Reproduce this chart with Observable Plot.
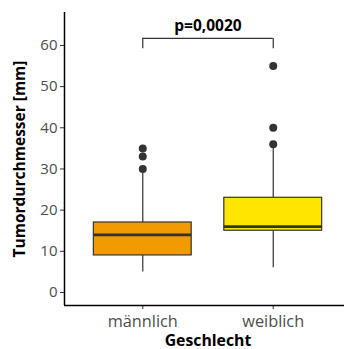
<!DOCTYPE html>
<html>
<head>
<meta charset="utf-8">
<script src="https://cdn.jsdelivr.net/npm/d3@7"></script>
<script src="https://cdn.jsdelivr.net/npm/@observablehq/plot@0.6"></script>
<style>
  html, body { margin: 0; padding: 0; background: #fff; }
  #chart svg { display: block; }
</style>
</head>
<body>
<div id="chart"></div>
<script>
// ---- data ----
const categories = ["männlich", "weiblich"];
const whiskerLow  = [5, 6];
const q1          = [9, 15];
const median      = [14, 16];
const q3          = [17, 23];
const whiskerHigh = [29, 35.5];
const outliers    = [[30, 33, 35], [36, 40, 55]];
const yTicks      = [0, 10, 20, 30, 40, 50, 60];
const pLabel      = "p=0,0020";
const yTitle      = "Tumordurchmesser [mm]";
const xTitle      = "Geschlecht";
const fills       = ["#F29B00", "#FFE500"];

const boxes = categories.map((c, i) => ({
  pos: i + 1, cat: c, lo: whiskerLow[i], q1: q1[i], med: median[i], q3: q3[i], hi: whiskerHigh[i], fill: fills[i]
}));
const outs = outliers.flatMap((arr, i) => arr.map(v => ({pos: i + 1, v})));

const half = 0.375;
const yMin = -3.16, yMax = 68;
const font = "'Open Sans', sans-serif";

const plot = Plot.plot({
  width: 344,
  height: 349,
  marginTop: 12,
  marginBottom: 44,
  marginLeft: 64,
  marginRight: 0,
  style: { fontFamily: font, background: "#fff" },
  x: { type: "linear", domain: [0.4, 2.6], range: [64, 351] },
  y: { domain: [yMin, yMax] },
  marks: [
    // axes
    Plot.axisY({ ticks: yTicks, tickSize: 4, tickPadding: 3, fontSize: 15, color: "#4d4d4d", stroke: "#333", label: null }),
    Plot.axisX({ ticks: [1, 2], tickFormat: d => categories[d - 1], tickSize: 4, tickPadding: 6, fontSize: 16.3, color: "#4d4d4d", stroke: "#333", label: null }),
    Plot.ruleX([0.4], { y1: yMin, y2: yMax, stroke: "#000", strokeWidth: 1.5 }),
    Plot.ruleY([yMin], { x1: 0.4, x2: 2.6, stroke: "#000", strokeWidth: 1.5 }),
    // whiskers
    Plot.ruleX(boxes, { x: "pos", y1: "lo", y2: "q1", stroke: "#333", strokeWidth: 1.2 }),
    Plot.ruleX(boxes, { x: "pos", y1: "q3", y2: "hi", stroke: "#333", strokeWidth: 1.2 }),
    // boxes
    Plot.rect(boxes, { x1: d => d.pos - half, x2: d => d.pos + half, y1: "q1", y2: "q3", fill: "fill", stroke: "#333", strokeWidth: 1.2 }),
    Plot.ruleY(boxes, { y: "med", x1: d => d.pos - half, x2: d => d.pos + half, stroke: "#333", strokeWidth: 2.6 }),
    // outliers
    Plot.dot(outs, { x: "pos", y: "v", r: 4, fill: "#333", stroke: null }),
    // significance bracket
    Plot.ruleY([61.7], { x1: 1, x2: 2, stroke: "#333", strokeWidth: 1.2 }),
    Plot.ruleX([1, 2], { y1: 59.2, y2: 61.7, stroke: "#333", strokeWidth: 1.2 }),
    Plot.text([pLabel], { x: 1.5, y: 63.4, text: d => d, lineAnchor: "bottom", fontSize: 15.5, fontWeight: "bold", fill: "#000" }),
    // axis titles
    Plot.text([yTitle], { frameAnchor: "left", dx: -44, rotate: -90, textAnchor: "middle", text: d => d, fontSize: 15.5, fontWeight: "bold", fill: "#000" }),
    Plot.text([xTitle], { frameAnchor: "bottom", dy: 40, x: 1.5, text: d => d, fontSize: 15.8, fontWeight: "bold", fill: "#000" })
  ]
});
document.getElementById("chart").appendChild(plot);
</script>
</body>
</html>
